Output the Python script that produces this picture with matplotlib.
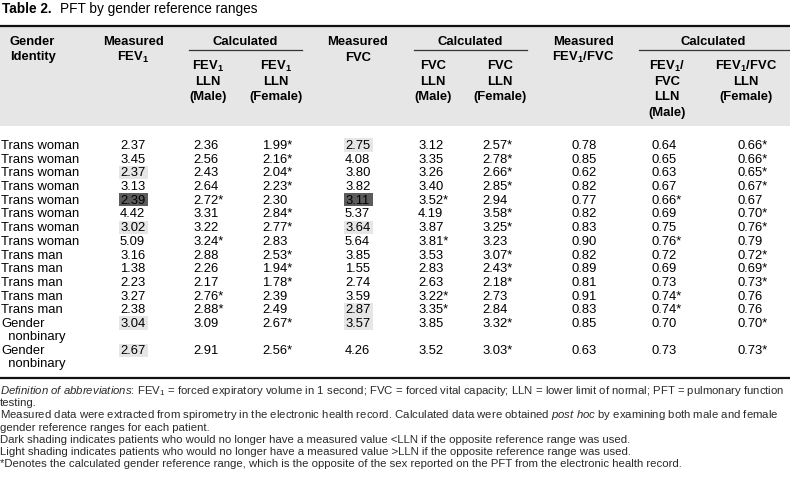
import matplotlib.pyplot as plt

plt.rcParams['font.family'] = 'Liberation Sans'
plt.rcParams['mathtext.fontset'] = 'custom'
plt.rcParams['mathtext.rm'] = 'Liberation Sans'
plt.rcParams['mathtext.it'] = 'Liberation Sans:italic'
plt.rcParams['mathtext.bf'] = 'Liberation Sans:bold'

# Table data
genders = ['Trans woman'] * 8 + ['Trans man'] * 5 + ['Gender\n  nonbinary'] * 2
fev1 = ['2.37', '3.45', '2.37', '3.13', '2.39', '4.42', '3.02', '5.09',
        '3.16', '1.38', '2.23', '3.27', '2.38', '3.04', '2.67']
fev1_lln_male = ['2.36', '2.56', '2.43', '2.64', '2.72*', '3.31', '3.22', '3.24*',
                 '2.88', '2.26', '2.17', '2.76*', '2.88*', '3.09', '2.91']
fev1_lln_female = ['1.99*', '2.16*', '2.04*', '2.23*', '2.30', '2.84*', '2.77*', '2.83',
                   '2.53*', '1.94*', '1.78*', '2.39', '2.49', '2.67*', '2.56*']
fvc = ['2.75', '4.08', '3.80', '3.82', '3.11', '5.37', '3.64', '5.64',
       '3.85', '1.55', '2.74', '3.59', '2.87', '3.57', '4.26']
fvc_lln_male = ['3.12', '3.35', '3.26', '3.40', '3.52*', '4.19', '3.87', '3.81*',
                '3.53', '2.83', '2.63', '3.22*', '3.35*', '3.85', '3.52']
fvc_lln_female = ['2.57*', '2.78*', '2.66*', '2.85*', '2.94', '3.58*', '3.25*', '3.23',
                  '3.07*', '2.43*', '2.18*', '2.73', '2.84', '3.32*', '3.03*']
ratio = ['0.78', '0.85', '0.62', '0.82', '0.77', '0.82', '0.83', '0.90',
         '0.82', '0.89', '0.81', '0.91', '0.83', '0.85', '0.63']
ratio_lln_male = ['0.64', '0.65', '0.63', '0.67', '0.66*', '0.69', '0.75', '0.76*',
                  '0.72', '0.69', '0.73', '0.74*', '0.74*', '0.70', '0.73']
ratio_lln_female = ['0.66*', '0.66*', '0.65*', '0.67*', '0.67', '0.70*', '0.76*', '0.79',
                    '0.72*', '0.69*', '0.73*', '0.76', '0.76', '0.70*', '0.73*']

columns = [fev1, fev1_lln_male, fev1_lln_female, fvc, fvc_lln_male,
           fvc_lln_female, ratio, ratio_lln_male, ratio_lln_female]

# (row, column) cells with shading
light_cells = [(2, 0), (6, 0), (13, 0), (14, 0), (0, 3), (6, 3), (12, 3), (13, 3)]
dark_cells = [(4, 0), (4, 3)]

footnotes = [
    r'$\mathit{Definition\ of\ abbreviations}$: FEV$_1$ = forced expiratory volume in 1 second; '
    r'FVC = forced vital capacity; LLN = lower limit of normal; PFT = pulmonary function',
    'testing.',
    r'Measured data were extracted from spirometry in the electronic health record. '
    r'Calculated data were obtained $\mathit{post\ hoc}$ by examining both male and female',
    'gender reference ranges for each patient.',
    'Dark shading indicates patients who would no longer have a measured value <LLN if the opposite reference range was used.',
    'Light shading indicates patients who would no longer have a measured value >LLN if the opposite reference range was used.',
    '*Denotes the calculated gender reference range, which is the opposite of the sex reported on the PFT from the electronic health record.',
]

fig = plt.figure(figsize=(7.9, 4.81), dpi=100)
ax = fig.add_axes([0, 0, 1, 1])
ax.set_xlim(0, 790)
ax.set_ylim(481, 0)
ax.axis('off')

fs = 9.4
grey_bg = '#e6e6e6'

# title
ax.text(2, 9, 'Table 2.', fontsize=9.8, fontweight='bold', va='center')
ax.text(60, 9, 'PFT by gender reference ranges', fontsize=9.8, va='center')

# header block
ax.add_patch(plt.Rectangle((0, 27), 790, 100, color=grey_bg, lw=0))
ax.plot([0, 790], [27, 27], color='#111111', lw=1.6)

hkw = dict(fontsize=fs, fontweight='bold', va='center')
ax.text(10, 42, 'Gender', **hkw)
ax.text(10, 57, 'Identity', **hkw)

def head(x, lines, y0=42, step=15.6):
    for i, s in enumerate(lines):
        ax.text(x, y0 + i * step, s, ha='center', **hkw)

head(133, ['Measured', r'$\mathbf{FEV_1}$'])
head(358, ['Measured', 'FVC'])
head(583, ['Measured', r'$\mathbf{FEV_1/FVC}$'])
for cx, x0, x1 in [(245, 189, 302), (470, 414, 527), (713, 639, 790)]:
    ax.text(cx, 42, 'Calculated', ha='center', **hkw)
    ax.plot([x0, x1], [50.5, 50.5], color='#333333', lw=0.9)
head(208, [r'$\mathbf{FEV_1}$', 'LLN', '(Male)'], y0=66)
head(276, [r'$\mathbf{FEV_1}$', 'LLN', '(Female)'], y0=66)
head(433, ['FVC', 'LLN', '(Male)'], y0=66)
head(500, ['FVC', 'LLN', '(Female)'], y0=66)
head(667, [r'$\mathbf{FEV_1/}$', 'FVC', 'LLN', '(Male)'], y0=66)
head(746, [r'$\mathbf{FEV_1/FVC}$', 'LLN', '(Female)'], y0=66)

# body rows
col_left = [120, 193, 262, 345, 418, 482, 572, 652, 737]
row_h = 13.7
row_y = []
y = 146
for g in genders:
    row_y.append(y)
    y += row_h * (2 if '\n' in g else 1)

for cells, colr in [(light_cells, '#e6e6e6'), (dark_cells, '#5c5c5c')]:
    for r, c in cells:
        ax.add_patch(plt.Rectangle((col_left[c] - 1.5, row_y[r] - 6.6), 29, 13.2,
                                   color=colr, lw=0))

for r, g in enumerate(genders):
    yy = row_y[r]
    for k, s in enumerate(g.split('\n')):
        ax.text(1, yy + k * 12.8, s, fontsize=fs, va='center')
    for c, col in enumerate(columns):
        ax.text(col_left[c], yy, col[r], fontsize=fs, va='center')

ax.plot([0, 790], [379, 379], color='#111111', lw=1.6)

# footnotes
for i, s in enumerate(footnotes):
    ax.text(0, 391 + i * 12.2, s, fontsize=8.2, va='center', color='#2a2a2a')

fig.savefig('out.png', dpi=100)
